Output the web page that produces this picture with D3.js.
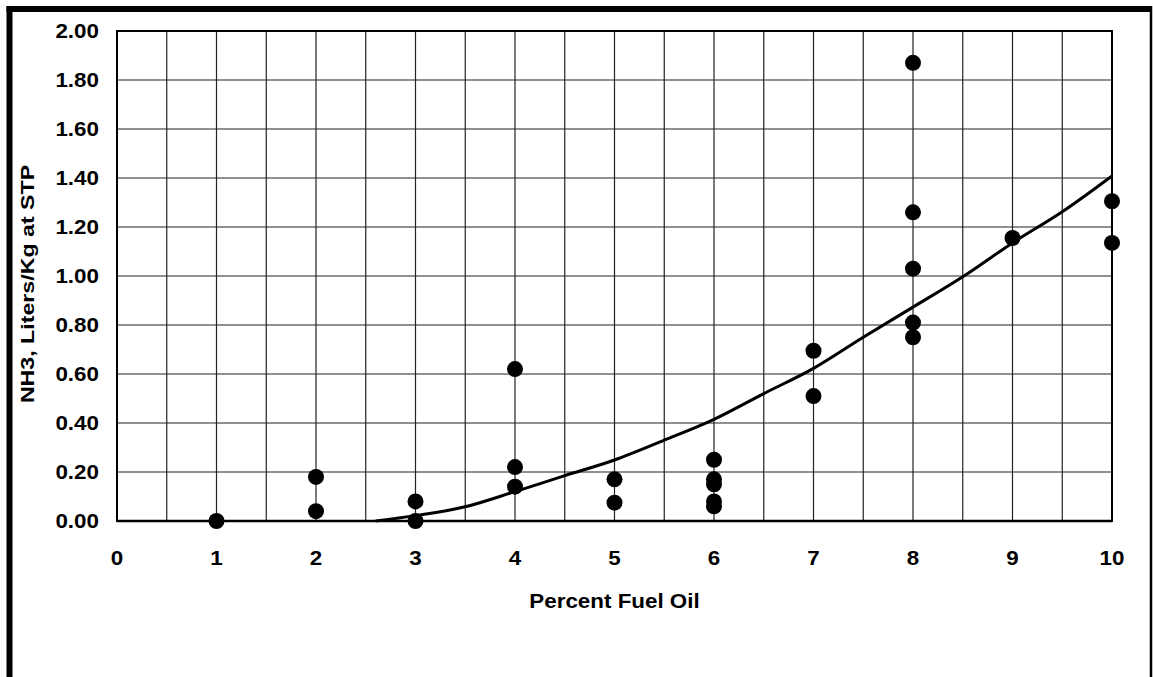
<!DOCTYPE html>
<html>
<head>
<meta charset="utf-8">
<script src="https://cdn.jsdelivr.net/npm/d3@7"></script>
<style>
  body { margin: 0; background: #fff; }
  svg { display: block; }
  text { font-family: "Liberation Sans", Arial, sans-serif; font-weight: bold; fill: #000; }
</style>
</head>
<body>
<svg id="chart" width="1153" height="677"></svg>
<script>
// measured points: percent fuel oil vs NH3 (L/kg at STP)
const fuelPct = [1, 2, 2, 3, 3, 4, 4, 4, 5, 5, 6, 6, 6, 6, 6, 7, 7, 8, 8, 8, 8, 8, 9, 10, 10];
const nh3 = [0.00, 0.18, 0.04, 0.08, 0.00, 0.62, 0.22, 0.14, 0.17, 0.075,
             0.25, 0.17, 0.15, 0.08, 0.06, 0.695, 0.51, 1.87, 1.26, 1.03,
             0.81, 0.75, 1.155, 1.305, 1.135];

// fitted trend line
const fitX = [2.6, 3, 3.5, 4, 4.5, 5, 5.5, 6, 6.5, 7, 7.5, 8, 8.5, 9, 9.5, 10];
const fitY = [0, 0.022, 0.058, 0.12, 0.185, 0.249, 0.33, 0.415, 0.52, 0.623, 0.75, 0.873, 0.997, 1.135, 1.262, 1.408];

const xTicks = [0, 1, 2, 3, 4, 5, 6, 7, 8, 9, 10];
const yTicks = [0, 0.2, 0.4, 0.6, 0.8, 1.0, 1.2, 1.4, 1.6, 1.8, 2.0];

const svg = d3.select('#chart');
const plotL = 117, plotR = 1112, plotT = 31, plotB = 521;
const stretch = 1.12; // the original glyphs are a bit wider than Arial

const x = d3.scaleLinear().domain([0, 10]).range([plotL, plotR]);
const y = d3.scaleLinear().domain([0, 2]).range([plotB, plotT]);

// outer frame
svg.append('line').attr('x1', 9.5).attr('x2', 9.5).attr('y1', 6).attr('y2', 677)
  .attr('stroke', '#000').attr('stroke-width', 6);
svg.append('line').attr('x1', 6.5).attr('x2', 1152).attr('y1', 9).attr('y2', 9)
  .attr('stroke', '#000').attr('stroke-width', 6);
svg.append('line').attr('x1', 1151).attr('x2', 1151).attr('y1', 6).attr('y2', 677)
  .attr('stroke', '#000').attr('stroke-width', 2.5);

// grid
const grid = svg.append('g');
grid.selectAll('line.v')
  .data(d3.range(0, 20).map(i => i * 0.5))
  .enter().append('line')
  .attr('x1', d => x(d)).attr('x2', d => x(d))
  .attr('y1', plotT).attr('y2', plotB)
  .attr('stroke', '#222').attr('stroke-width', 1.2);
grid.selectAll('line.h')
  .data(yTicks.slice(1))
  .enter().append('line')
  .attr('x1', plotL).attr('x2', plotR)
  .attr('y1', d => y(d)).attr('y2', d => y(d))
  .attr('stroke', '#222').attr('stroke-width', 1.2);

// plot border
svg.append('rect')
  .attr('x', plotL).attr('y', plotT)
  .attr('width', plotR - plotL).attr('height', plotB - plotT)
  .attr('fill', 'none').attr('stroke', '#000').attr('stroke-width', 2);
svg.append('line')
  .attr('x1', plotL).attr('x2', plotR).attr('y1', plotB).attr('y2', plotB)
  .attr('stroke', '#000').attr('stroke-width', 2.5);

// tick labels
svg.append('g').selectAll('text')
  .data(yTicks)
  .enter().append('text')
  .attr('transform', d => `translate(99,${y(d)}) scale(${stretch},1)`)
  .attr('text-anchor', 'end')
  .attr('dy', '0.36em')
  .attr('font-size', 20)
  .text(d => d3.format('.2f')(d));

svg.append('g').selectAll('text')
  .data(xTicks)
  .enter().append('text')
  .attr('transform', d => `translate(${x(d)},565) scale(${stretch},1)`)
  .attr('text-anchor', 'middle')
  .attr('font-size', 20)
  .text(d => d);

// axis titles
svg.append('text')
  .attr('transform', `translate(${(plotL + plotR) / 2},608) scale(${stretch},1)`)
  .attr('text-anchor', 'middle')
  .attr('font-size', 20)
  .text('Percent Fuel Oil');

svg.append('text')
  .attr('transform', `translate(34,284) rotate(-90) scale(1.22,1)`)
  .attr('text-anchor', 'middle')
  .attr('font-size', 19)
  .text('NH3, Liters/Kg at STP');

// trend line
const line = d3.line()
  .x((d, i) => x(fitX[i]))
  .y(d => y(d))
  .curve(d3.curveMonotoneX);
svg.append('path')
  .datum(fitY)
  .attr('d', line)
  .attr('fill', 'none')
  .attr('stroke', '#000')
  .attr('stroke-width', 3);

// data points
svg.append('g').selectAll('circle')
  .data(nh3)
  .enter().append('circle')
  .attr('cx', (d, i) => x(fuelPct[i]))
  .attr('cy', d => y(d))
  .attr('r', 8)
  .attr('fill', '#000');
</script>
</body>
</html>
